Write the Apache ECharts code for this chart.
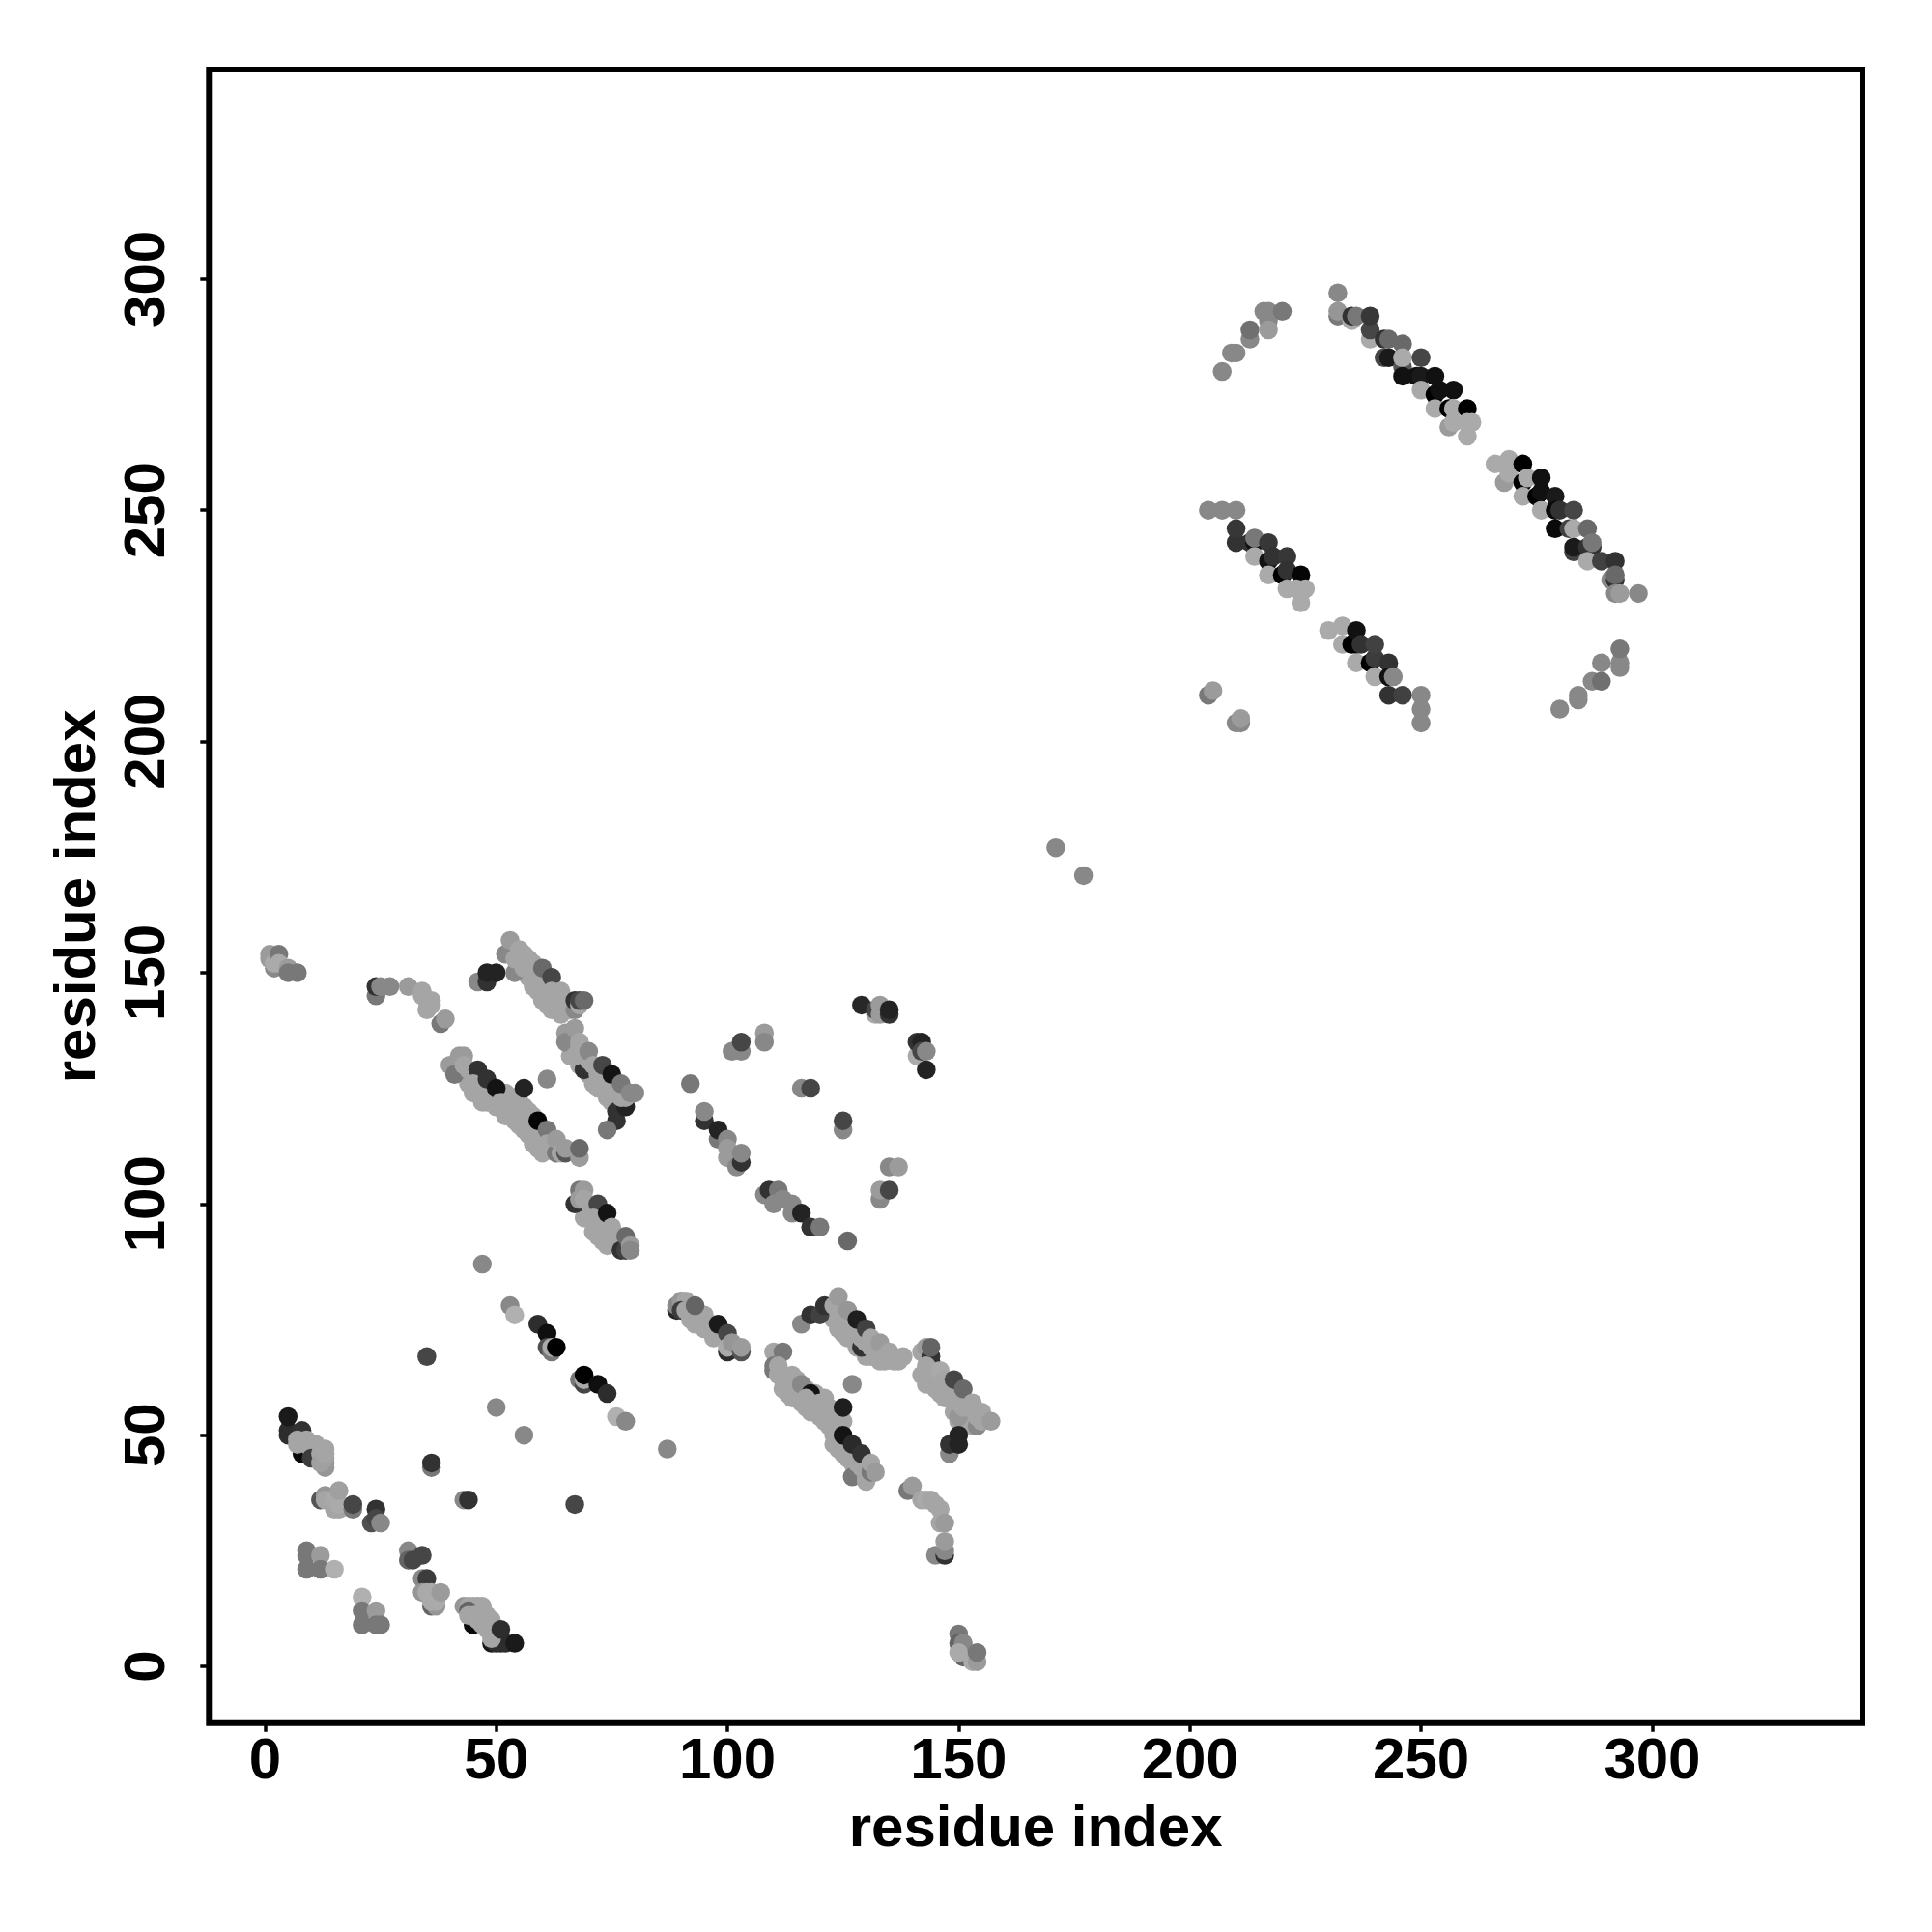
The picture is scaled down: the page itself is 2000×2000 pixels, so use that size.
<!DOCTYPE html>
<html><head><meta charset="utf-8">
<script src="https://cdn.jsdelivr.net/npm/echarts@6/dist/echarts.min.js"></script>
<style>html,body{margin:0;padding:0;background:#fff}#c{width:2000px;height:2000px}</style>
</head><body><div id="c"></div>
<script>
// Each contact: [residue index x, residue index y, grey level]
const tickValues = [0, 50, 100, 150, 200, 250, 300];
const axisTitle = 'residue index';

const fillH = [[112,60,165],[113,59,165],[114,58,165],[116,57,165],[117,56,165],[118,55,165],[120,54,165],[121,53,165],[122,52,165],[123,50,165],[123,48,165],[124,47,165],[125,46,165],[126,45,165],[127,44,165],[115,62,165],[117,60,165],[119,59,165],[121,58,165],[122,56,165],[123,55,165],[125,53,165]];
const fillO = [[44,126,165],[45,124,165],[47,122,165],[48,122,165],[50,121,165],[52,119,165],[54,118,165],[55,117,165],[56,116,165],[57,115,165],[58,113,165],[59,112,165],[60,111,165],[52,124,165],[54,123,165],[55,122,165],[56,121,165],[58,119,165]];
const fillP = [[66,132,165],[68,130,165],[70,128,165],[71,126,165],[72,125,165],[74,123,165],[75,122,165],[77,121,165]];
const fillQ = [[69,97,165],[71,94,165],[72,93,165],[73,92,165],[74,91,165],[75,92,165],[74,93,165]];
const fillN = [[55,151,165],[57,149,165],[58,147,165],[59,146,165],[60,144,165],[61,143,165],[62,142,165],[64,141,165],[66,142,165]];
const fillI = [[123,75,165],[124,73,165],[125,72,165],[126,71,165],[128,69,165],[130,67,165],[131,67,165],[133,66,165],[134,66,165],[137,66,165]];
const fillJ = [[143,61,165],[145,60,165],[146,59,165],[147,58,165],[149,55,165],[150,53,165],[152,53,165],[153,52,165]];

const blockA = [[5,51,45],[5,50,45],[8,51,50],[5,54,26],[8,46,10],[7,49,165],[7,48,165],[9,49,165],[9,48,165],[10,48,165],[10,47,165],[11,48,165],[11,47,165],[10,45,60],[12,46,165],[13,44,140],[13,43,150],[12,44,160],[13,45,160],[13,46,165],[13,47,165]];
const blockB = [[12,36,85],[13,37,150],[13,36,165],[15,36,170],[15,35,170],[15,34,165],[16,34,165],[16,35,170],[16,38,160],[19,34,120],[19,35,70],[23,31,80],[24,34,50],[24,32,70],[25,31,136]];
const blockC = [[9,25,120],[9,24,120],[12,24,155],[9,21,120],[12,21,120],[15,21,176]];
const blockD = [[21,15,176],[21,12,120],[24,12,155],[21,9,120],[24,9,120],[25,9,120]];
const blockE = [[31,25,136],[31,23,100],[32,23,70],[34,24,70],[34,19,136],[35,19,60],[36,13,100],[37,13,150],[34,16,150],[35,16,170],[36,16,170],[36,14,170],[37,14,170],[38,16,155]];
const blockF = [[43,13,150],[44,13,165],[45,13,165],[46,13,165],[47,13,165],[45,9,10],[44,12,100],[44,11,165],[45,11,165],[46,11,165],[47,12,165],[47,11,165],[48,11,165],[46,10,165],[47,10,165],[48,10,165],[49,10,165],[47,9,165],[48,9,165],[48,8,165],[49,7,165],[49,5,25],[50,5,45],[51,5,45],[52,5,45],[49,6,165],[51,8,45],[54,5,26]];
const scatterA = [[35,67,70],[36,43,120],[36,44,50],[43,36,136],[44,36,50],[50,56,136],[56,50,136],[47,87,136],[53,78,136],[54,76,176],[67,35,70],[87,47,136]];
const strandA = [[59,74,45],[61,72,15],[61,69,80],[62,68,120],[62,69,170],[63,69,0],[68,62,120],[69,61,70],[69,62,170],[69,63,0],[72,61,15],[74,59,45],[76,54,176],[78,53,136]];
const blockG = [[89,77,40],[89,78,136],[90,79,150],[91,79,165],[90,77,60],[91,77,165],[92,75,165],[93,75,165],[94,76,165],[95,76,165],[94,74,165],[93,74,165],[95,75,165],[95,73,165],[93,78,100],[97,71,165],[98,74,26],[100,72,70],[100,68,45],[100,69,170],[101,70,150],[103,68,85],[103,69,155]];
const blockH = [[110,68,165],[112,68,120],[110,65,120],[110,64,120],[111,65,165],[111,63,165],[112,62,165],[113,61,165],[114,63,165],[114,60,165],[115,59,165],[116,58,165],[116,61,136],[118,59,20],[117,58,165],[118,57,165],[119,56,165],[120,57,165],[120,56,165],[121,55,165],[122,54,165],[123,53,165],[124,52,165],[124,51,165],[124,50,165],[125,49,165],[126,48,165],[127,47,165],[128,46,165],[127,41,120],[128,44,165],[129,43,165],[130,41,165],[130,40,165],[125,56,30],[127,61,136],[125,50,20],[127,48,42],[129,46,50],[131,42,120],[131,44,165],[132,42,155]];
const blockI = [[116,74,136],[118,76,50],[120,76,65],[121,78,50],[125,75,165],[123,78,165],[124,77,165],[124,80,155],[126,74,165],[127,73,165],[126,77,150],[129,69,50],[128,72,165],[129,71,165],[128,75,30],[130,70,165],[130,73,65],[131,69,165],[132,69,165],[133,68,165],[131,71,165],[133,70,155],[134,67,165],[135,67,165],[136,66,165],[135,68,165],[138,67,165]];
const blockJ = [[142,68,165],[143,69,155],[144,66,30],[144,67,50],[144,69,100],[142,63,165],[143,65,165],[144,64,165],[145,63,165],[146,64,170],[146,61,165],[147,62,165],[148,58,165],[149,60,165],[149,62,70],[150,54,150],[150,57,165],[151,56,165],[151,60,105],[152,56,165],[153,57,165],[154,52,136],[154,54,165],[155,55,165],[155,53,165],[157,53,155]];
const blockK = [[148,46,136],[148,48,50],[150,48,35],[150,50,35]];
const blockL = [[139,38,120],[140,39,155],[142,36,165],[143,36,170],[144,36,165],[145,35,165],[146,34,165],[146,31,165],[147,31,155]];
const blockM = [[145,24,136],[147,24,50],[147,25,136],[147,27,155],[150,7,120],[150,5,100],[151,5,136],[151,2,100],[150,3,170],[153,1,170],[154,1,155],[154,3,120]];
const corner = [[1,154,155],[1,153,155],[2,151,136],[2,152,170],[3,154,120],[3,152,170],[5,151,155],[5,150,120],[7,150,120]];
const arcA = [[24,145,120],[24,147,50],[25,147,136],[27,147,136],[31,147,155],[34,146,165],[34,145,165],[35,144,165],[36,144,165],[36,143,165],[35,142,165],[38,139,120],[39,140,155]];
const blockN = [[46,148,136],[48,148,50],[48,150,35],[50,150,35],[54,150,136],[52,154,136],[53,157,155],[55,155,165],[54,153,165],[56,154,165],[57,153,165],[56,151,165],[58,152,165],[59,150,165],[60,149,165],[61,147,165],[60,151,105],[62,149,70],[61,145,165],[62,146,165],[63,143,165],[64,146,165],[65,144,165],[67,142,136],[67,144,50],[68,143,165],[68,144,70],[69,144,105]];
const blockO = [[40,130,155],[41,128,120],[42,132,155],[43,132,155],[43,130,165],[44,129,165],[45,128,165],[46,129,50],[45,126,165],[46,125,165],[47,125,165],[47,124,165],[48,124,165],[48,127,50],[49,123,165],[50,123,165],[50,125,20],[51,122,165],[52,122,165],[53,121,165],[54,121,165],[55,120,165],[56,119,165],[57,120,165],[57,118,165],[58,117,165],[59,115,165],[60,114,165],[59,118,5],[61,116,120],[61,113,165],[62,112,165],[63,111,120],[63,114,155],[64,111,165],[65,111,85],[65,112,155],[68,110,155],[68,112,105],[56,125,35],[61,127,136]];
const blockP = [[65,137,155],[65,135,136],[67,138,155],[68,135,165],[69,129,50],[67,132,165],[68,134,165],[69,133,165],[70,131,165],[70,133,136],[71,130,165],[72,129,165],[72,128,165],[73,127,165],[73,130,70],[74,126,165],[75,125,165],[75,128,20],[76,120,50],[76,118,50],[74,116,120],[78,121,35],[76,124,165],[77,123,165],[78,123,165],[77,126,120],[79,124,136],[80,124,136]];
const blockQ = [[68,103,120],[69,103,155],[67,100,50],[68,101,155],[69,101,165],[70,97,165],[71,99,165],[72,100,70],[71,97,165],[72,96,165],[73,95,165],[74,94,165],[75,94,165],[74,98,20],[75,95,165],[76,93,165],[76,92,165],[77,90,50],[78,90,65],[78,93,105],[79,91,155],[79,90,136]];
const blockR = [[92,126,120],[95,118,50],[95,120,136],[98,114,120],[98,116,35],[100,114,136],[100,112,155],[100,110,155],[102,108,136],[103,109,50],[103,111,136]];
const blockS = [[108,137,155],[108,135,136],[101,133,136],[103,133,136],[103,135,70],[116,125,136],[118,125,70],[125,116,136],[125,118,70],[126,92,105]];
const blockT = [[108,102,136],[109,103,50],[111,103,120],[110,100,136],[112,101,136],[114,100,136],[114,98,136],[116,98,35],[118,95,50],[120,95,120]];
const blockU = [[129,143,40],[132,141,170],[132,142,70],[133,143,155],[133,141,155],[135,141,50],[135,142,35]];
const blockV = [[141,132,170],[141,135,50],[142,135,35],[142,133,70],[143,133,136],[143,129,35],[135,108,136],[137,108,155],[133,101,136],[133,103,155],[135,103,70]];
const middle = [[171,177,136],[177,171,136]];
const arcB = [[207,280,136],[209,284,136],[210,284,136],[213,287,136],[213,289,112],[217,291,136],[217,289,155],[216,293,136],[217,293,136],[220,293,120]];
const strandB = [[232,297,136],[232,292,120],[232,293,150],[235,291,170],[235,292,50],[236,292,120],[239,287,170],[239,289,70],[239,292,55],[242,287,50],[243,287,105],[246,286,105],[242,283,70],[243,283,26],[246,281,85],[246,283,170],[246,279,17],[249,279,17],[250,279,26],[250,283,70],[253,279,17],[250,276,170],[253,275,0],[254,276,17],[257,276,17],[253,272,170],[256,272,0],[257,272,170],[260,272,0],[256,268,155],[257,269,170],[260,269,170],[261,269,170],[260,266,170]];
const strandC = [[204,250,136],[207,250,136],[210,250,136],[210,243,50],[210,246,55],[213,243,50],[214,243,17],[214,240,170],[214,244,120],[217,239,17],[217,243,55],[218,240,50],[221,240,55],[217,236,170],[220,236,0],[221,237,50],[224,236,5],[221,233,170],[223,233,170],[225,233,170],[224,230,170]];
const islands = [[204,210,120],[205,211,155],[210,204,136],[211,204,136],[211,205,155],[250,210,136],[250,207,136],[250,204,136]];
const strandD = [[230,224,170],[233,225,170],[233,221,170],[235,221,0],[236,221,0],[236,224,17],[237,221,50],[236,217,170],[239,217,0],[240,218,60],[240,221,65],[243,217,50],[240,214,170],[243,214,17],[244,214,136],[243,210,50],[246,210,65]];
const strandE = [[266,260,170],[268,256,155],[269,258,170],[269,261,170],[272,256,0],[272,253,170],[272,260,0],[273,257,170],[275,253,0],[276,250,170],[276,254,17],[276,257,17],[279,253,26],[279,246,10],[279,250,10],[280,250,50],[282,246,65],[283,250,70],[283,246,170],[286,246,105],[283,241,65],[283,242,26],[286,242,50],[287,242,50],[287,243,120],[286,239,170],[289,239,65],[292,239,50],[291,235,136],[292,235,50],[292,236,105],[292,232,136],[293,232,155],[297,232,136]];
const arcC = [[280,207,136],[284,209,136],[284,210,136],[287,213,136],[289,213,112],[289,217,136],[293,216,136],[293,217,136],[293,220,120]];

const contactBlocks = [fillH,fillO,fillP,fillQ,fillN,fillI,fillJ,blockA,blockB,blockC,blockD,blockE,blockF,scatterA,strandA,blockG,blockH,blockI,blockJ,blockK,blockL,blockM,corner,arcA,blockN,blockO,blockP,blockQ,blockR,blockS,blockT,blockU,blockV,middle,arcB,strandB,strandC,islands,strandD,strandE,arcC];

const labelFont = {fontFamily:'"Liberation Sans"',fontWeight:'bold',fontSize:60,color:'#000'};
function axis(extra){
  return Object.assign({
    type:'value',splitLine:{show:false},
    axisLine:{show:false,onZero:false},
    axisTick:{show:true,length:9,inside:false,customValues:tickValues,lineStyle:{color:'#000',width:3.5}},
    name:axisTitle,nameLocation:'middle',
    nameTextStyle:Object.assign({},labelFont)
  },extra);
}
const chart = echarts.init(document.getElementById('c'),null,{renderer:'canvas'});
chart.setOption({
  animation:false,backgroundColor:'#fff',
  grid:{left:216.3,top:72,width:1711.7,height:1711.8,show:true,borderColor:'#000',borderWidth:6,backgroundColor:'#fff'},
  xAxis:axis({min:-12.12,max:345.45,nameGap:81,axisLabel:Object.assign({show:true,customValues:tickValues,margin:11},labelFont)}),
  yAxis:axis({min:-12.28,max:345.3,nameGap:105,nameRotate:90,axisLabel:Object.assign({show:true,customValues:tickValues,margin:33,rotate:90},labelFont)}),
  series:[{
    type:'scatter',symbol:'circle',symbolSize:19.5,
    data:contactBlocks.flat(),
    encode:{x:0,y:1},
    itemStyle:{color:p=>{const g=p.value[2];return 'rgb('+g+','+g+','+g+')';},opacity:1,borderWidth:0},
    silent:true,large:false,progressive:0
  }]
});
</script></body></html>
